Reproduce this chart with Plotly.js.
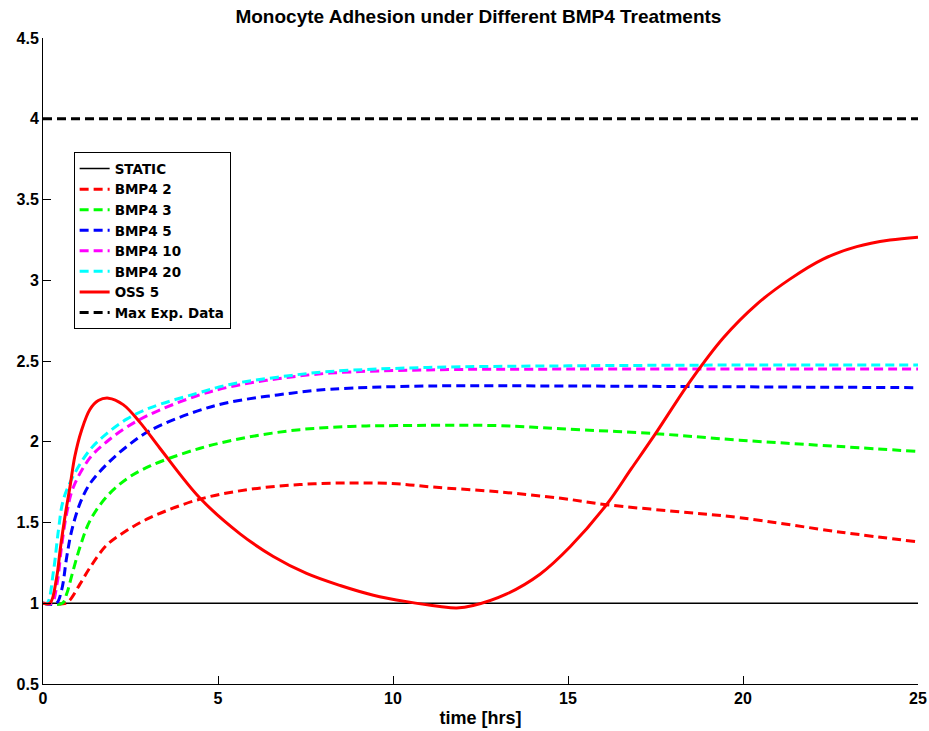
<!DOCTYPE html>
<html>
<head>
<meta charset="utf-8">
<script src="https://cdn.plot.ly/plotly-3.0.1.min.js"></script>
<style>html,body{margin:0;padding:0;background:#fff;}#chart{width:929px;height:731px;}</style>
</head>
<body>
<div id="chart"></div>
<script>
// ---- data ----
const xRange = [0, 25];
const staticT = [0, 25];
const staticV = [1, 1];
const maxExpT = [0, 25];
const maxExpV = [4, 4];

const bmp2T = [0, 0.65, 0.77, 1.06, 1.34, 1.82, 2.39, 3.06, 4.49, 5.9, 7.34, 8.77, 10.1, 11.1, 13, 14.8, 16.1, 18, 19.9, 22.8, 25];
const bmp2V = [1, 1.0, 1.02, 1.12, 1.22, 1.36, 1.45, 1.53, 1.645, 1.705, 1.735, 1.745, 1.74, 1.72, 1.69, 1.65, 1.61, 1.57, 1.53, 1.44, 1.38];

const bmp3T = [0, 0.55, 0.68, 0.82, 1.06, 1.34, 1.82, 2.39, 3.06, 4.49, 5.9, 7.34, 8.77, 10.1, 13, 14.8, 17.5, 19.9, 22.8, 25];
const bmp3V = [1, 1.0, 1.06, 1.17, 1.35, 1.51, 1.66, 1.77, 1.85, 1.96, 2.03, 2.075, 2.095, 2.10, 2.10, 2.08, 2.05, 2.01, 1.97, 1.94];

const bmp5T = [0, 0.38, 0.53, 0.68, 0.82, 1.06, 1.34, 1.82, 2.39, 3.06, 4.4, 5.34, 6.7, 8.2, 11, 15, 20, 25];
const bmp5V = [1, 1.0, 1.08, 1.29, 1.45, 1.62, 1.74, 1.86, 1.97, 2.07, 2.19, 2.245, 2.29, 2.325, 2.345, 2.345, 2.34, 2.335];

const bmp10T = [0, 0.25, 0.4, 0.53, 0.68, 0.87, 1.34, 1.82, 2.39, 3.06, 4.4, 5.34, 6.7, 8.2, 11, 15, 20, 25];
const bmp10V = [1, 1.0, 1.12, 1.35, 1.56, 1.72, 1.90, 2.00, 2.09, 2.17, 2.285, 2.34, 2.39, 2.425, 2.445, 2.45, 2.45, 2.45];

const bmp20T = [0, 0.12, 0.3, 0.44, 0.58, 0.87, 1.34, 1.82, 2.39, 3.06, 4.4, 5.34, 6.7, 8.2, 11, 15, 20, 25];
const bmp20V = [1, 1.0, 1.20, 1.45, 1.64, 1.79, 1.95, 2.05, 2.14, 2.21, 2.30, 2.355, 2.40, 2.435, 2.46, 2.47, 2.475, 2.475];

const oss5T = [0, 0.2, 0.39, 0.49, 0.63, 0.77, 0.91, 1.1, 1.34, 1.58, 1.87, 2.29, 2.77, 3.34, 4.49, 5.63, 6.58, 7.53, 8.49, 9.44, 10.39, 11.34, 11.82, 12.29, 13.25, 14.2, 15.06, 16.1, 16.8, 17.5, 18.49, 19.44, 20.39, 21.34, 22.29, 23.25, 24.2, 25];
const oss5V = [1, 1.0, 1.16, 1.33, 1.54, 1.72, 1.91, 2.07, 2.20, 2.255, 2.27, 2.23, 2.12, 1.96, 1.65, 1.43, 1.29, 1.185, 1.11, 1.05, 1.01, 0.98, 0.971, 0.986, 1.058, 1.18, 1.35, 1.61, 1.83, 2.05, 2.374, 2.644, 2.851, 3.007, 3.131, 3.208, 3.249, 3.267];

const xTicks = [0, 5, 10, 15, 20, 25];
const yTicks = [0.5, 1, 1.5, 2, 2.5, 3, 3.5, 4, 4.5];
const yTickText = ['0.5', '1', '1.5', '2', '2.5', '3', '3.5', '4', '4.5'];

const FONT = 'Liberation Sans, Arial, sans-serif';
const LEGFONT = 'DejaVu Sans, Liberation Sans, sans-serif';
const DASH = '9px,5px';

function tr(name, x, y, color, width, dash, shape) {
  return {x: x, y: y, name: name, type: 'scatter', mode: 'lines',
    line: {color: color, width: width, dash: dash, shape: shape || 'spline', smoothing: 1},
    hoverinfo: 'skip'};
}

const data = [
  tr('STATIC', staticT, staticV, '#000000', 1.5, 'solid', 'linear'),
  tr('BMP4 2', bmp2T, bmp2V, '#ff0000', 3, DASH),
  tr('BMP4 3', bmp3T, bmp3V, '#00ff00', 3, DASH),
  tr('BMP4 5', bmp5T, bmp5V, '#0000ff', 3, DASH),
  tr('BMP4 10', bmp10T, bmp10V, '#ff00ff', 3, DASH),
  tr('BMP4 20', bmp20T, bmp20V, '#00ffff', 3, DASH),
  tr('OSS 5', oss5T, oss5V, '#ff0000', 3, 'solid'),
  tr('Max Exp. Data', maxExpT, maxExpV, '#000000', 3, DASH, 'linear')
];

const layout = {
  width: 929, height: 731,
  margin: {l: 43, r: 11, t: 38, b: 47},
  paper_bgcolor: '#ffffff', plot_bgcolor: '#ffffff',
  font: {family: FONT, size: 16, color: '#000'},
  title: {text: '<b>Monocyte Adhesion under Different BMP4 Treatments</b>',
    font: {family: FONT, size: 19, color: '#000'}, x: 0.515, xanchor: 'center', y: 0.977, yanchor: 'middle'},
  xaxis: {range: xRange, tickvals: xTicks, ticktext: xTicks.map(v => '<b>' + v + '</b>'),
    ticks: 'inside', ticklen: 8, tickwidth: 1, tickcolor: '#000',
    showline: true, linecolor: '#000', linewidth: 1, showgrid: false, zeroline: false,
    tickfont: {family: FONT, size: 16, color: '#000'},
    title: {text: '<b>time [hrs]</b>', font: {family: FONT, size: 18, color: '#000'}, standoff: 5}},
  yaxis: {range: [0.5, 4.5], tickvals: yTicks, ticktext: yTickText.map(v => '<b>' + v + '</b>'),
    ticks: 'inside', ticklen: 8, tickwidth: 1, tickcolor: '#000',
    showline: true, linecolor: '#000', linewidth: 1, showgrid: false, zeroline: false,
    tickfont: {family: FONT, size: 16, color: '#000'}},
  showlegend: true,
  legend: {x: 0.035, y: 0.823, xanchor: 'left', yanchor: 'top',
    bgcolor: '#ffffff', bordercolor: '#000', borderwidth: 1,
    font: {family: LEGFONT, size: 13.5, color: '#000', weight: 'bold'},
    tracegroupgap: 0, itemwidth: 30},
  hovermode: false
};

Plotly.newPlot('chart', data, layout, {displayModeBar: false, staticPlot: true});
</script>
</body>
</html>
